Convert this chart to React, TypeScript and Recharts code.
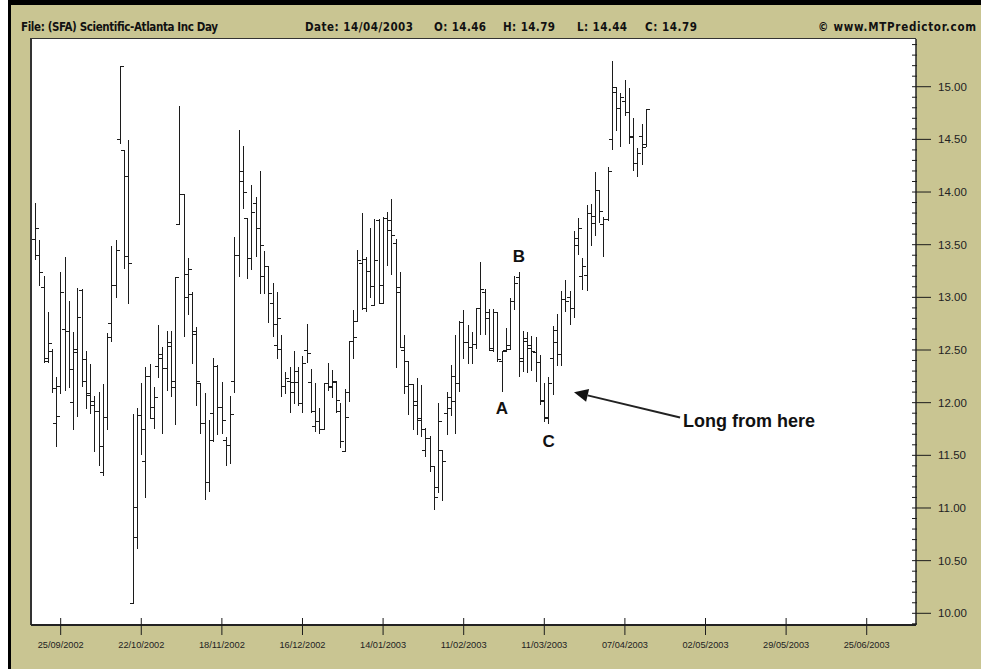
import React from 'react';
import { ComposedChart, Bar, XAxis, YAxis, ReferenceDot, ReferenceLine } from 'recharts';

// daily bars, 17/09/2002 .. 14/04/2003
const openPx = [
  13.55, 13.40, 13.10, 12.42, 12.49, 11.81, 12.16, 12.70, 12.68, 12.01,
  12.51, 13.07, 12.21, 12.09, 12.02, 11.92, 11.34, 11.86, 12.76, 13.12,
  14.50, 14.40, 13.39, 10.10, 10.72, 11.88, 11.45, 12.25, 11.85, 12.35,
  12.46, 12.33, 12.54, 12.21, 13.70, 13.98, 13.00, 13.03, 12.65, 12.19,
  11.81, 11.25, 11.90, 12.35, 11.96, 11.65, 11.60, 12.21, 13.40, 14.10,
  13.75, 13.37, 13.90, 13.66, 13.20, 13.30, 12.95, 12.55, 12.51, 12.16,
  12.21, 12.20, 12.20, 12.00, 12.50, 12.20, 11.78, 11.83, 11.75, 12.19,
  12.15, 12.20, 11.92, 11.54, 12.10, 12.59, 12.78, 13.33, 12.90, 13.25,
  12.93, 13.73, 12.95, 13.75, 13.73, 13.52, 13.10, 12.50, 12.16, 12.18,
  12.02, 11.84, 11.55, 11.66, 11.40, 11.20, 11.55, 11.90, 12.05, 12.02,
  12.19, 12.77, 12.58, 12.53, 12.56, 12.90, 13.05, 12.80, 12.52, 12.86,
  12.40, 12.50, 12.55, 12.97, 13.19, 12.40, 12.59, 12.55, 12.48, 12.39,
  12.02, 11.85, 12.42, 12.69, 12.46, 12.98, 13.00, 12.90, 13.56, 13.20,
  13.21, 13.80, 13.77, 14.02, 13.70, 13.74, 14.50, 14.95, 14.80, 14.86,
  14.76, 14.52, 14.28, 14.53, 14.46,
];
const highPx = [
  13.90, 13.54, 13.20, 12.86, 12.51, 12.24, 13.24, 13.38, 12.97, 12.67,
  13.09, 13.08, 12.49, 12.37, 12.06, 12.10, 12.18, 12.66, 13.49, 13.54,
  15.20, 14.40, 14.49, 11.89, 11.95, 12.19, 12.34, 12.37, 12.15, 12.74,
  12.53, 12.68, 12.68, 13.19, 14.82, 13.98, 13.37, 13.05, 12.72, 12.19,
  12.09, 11.84, 12.42, 12.36, 12.20, 11.67, 12.06, 13.57, 14.59, 14.44,
  13.75, 14.07, 13.95, 14.20, 13.44, 13.30, 13.14, 13.05, 12.64, 12.29,
  12.34, 12.49, 12.34, 12.44, 12.75, 12.32, 12.19, 11.95, 12.19, 12.38,
  12.31, 12.21, 12.00, 12.13, 12.59, 12.88, 13.45, 13.80, 13.38, 13.66,
  13.74, 13.74, 13.76, 13.81, 13.93, 13.55, 13.24, 12.64, 12.40, 12.18,
  12.23, 12.17, 11.76, 11.68, 11.40, 12.00, 11.55, 12.10, 12.36, 12.64,
  12.78, 12.88, 12.74, 12.67, 12.90, 13.34, 13.08, 12.89, 12.89, 12.86,
  12.49, 12.71, 12.99, 13.20, 13.24, 12.68, 12.67, 12.63, 12.62, 12.45,
  12.19, 12.24, 12.73, 12.84, 13.06, 13.16, 13.06, 13.63, 13.75, 13.37,
  13.88, 13.89, 14.19, 14.02, 13.76, 14.24, 15.24, 15.00, 14.94, 15.06,
  14.99, 14.70, 14.42, 14.65, 14.79,
];
const lowPx = [
  13.36, 13.12, 12.39, 12.39, 12.10, 11.59, 12.09, 12.12, 12.15, 11.75,
  11.87, 12.16, 11.95, 11.90, 11.54, 11.41, 11.31, 11.75, 12.59, 13.00,
  14.47, 13.28, 12.95, 10.10, 10.62, 11.51, 11.10, 11.85, 11.76, 12.24,
  11.71, 12.12, 12.06, 11.80, 13.70, 12.63, 12.84, 12.38, 11.98, 11.71,
  11.09, 11.16, 11.64, 11.70, 11.71, 11.41, 11.43, 12.10, 13.20, 13.85,
  13.18, 13.27, 13.39, 13.04, 13.04, 12.77, 12.63, 12.42, 12.06, 12.09,
  11.91, 12.00, 11.98, 11.91, 12.39, 11.91, 11.73, 11.71, 11.75, 12.12,
  12.05, 11.91, 11.58, 11.54, 12.02, 12.42, 12.78, 12.89, 12.87, 13.00,
  12.93, 12.95, 12.95, 13.31, 13.22, 12.34, 12.53, 12.09, 11.89, 11.75,
  11.70, 11.68, 11.49, 11.35, 10.99, 11.15, 11.08, 11.70, 11.88, 11.71,
  12.11, 12.42, 12.38, 12.38, 12.52, 12.65, 12.65, 12.50, 12.49, 12.40,
  12.11, 12.49, 12.51, 12.89, 12.25, 12.30, 12.29, 12.31, 12.21, 11.99,
  11.83, 11.81, 12.08, 12.36, 12.36, 12.87, 12.75, 12.81, 13.41, 13.08,
  13.07, 13.50, 13.59, 13.72, 13.39, 13.73, 14.41, 14.59, 14.44, 14.73,
  14.47, 14.21, 14.15, 14.27, 14.44,
];
const closePx = [
  13.66, 13.24, 12.40, 12.57, 12.14, 11.87, 13.05, 12.68, 12.32, 12.48,
  12.81, 12.41, 12.07, 11.98, 11.92, 11.59, 11.86, 12.62, 13.12, 13.45,
  15.20, 14.15, 13.33, 11.01, 11.88, 11.75, 12.25, 11.96, 12.05, 12.42,
  12.33, 12.58, 12.15, 13.19, 13.98, 13.22, 13.27, 12.68, 12.21, 11.81,
  11.25, 11.65, 12.35, 11.96, 11.84, 11.60, 11.89, 13.40, 14.20, 14.00,
  13.37, 13.81, 13.66, 13.50, 13.30, 13.04, 12.75, 12.80, 12.16, 12.23,
  12.10, 12.30, 12.00, 12.38, 12.47, 11.92, 11.83, 11.75, 12.19, 12.16,
  12.21, 12.03, 11.64, 11.86, 12.59, 12.62, 13.35, 13.36, 13.25, 13.11,
  13.35, 13.12, 13.75, 13.64, 13.59, 13.05, 12.53, 12.40, 12.18, 11.98,
  11.85, 11.75, 11.66, 11.40, 11.10, 11.83, 11.45, 11.95, 12.25, 12.19,
  12.77, 12.58, 12.53, 12.56, 12.90, 13.08, 12.86, 12.50, 12.86, 12.41,
  12.49, 12.51, 12.97, 13.14, 12.42, 12.61, 12.52, 12.49, 12.39, 12.03,
  11.86, 12.19, 12.58, 12.46, 12.98, 12.97, 12.90, 13.50, 13.66, 13.30,
  13.80, 13.71, 14.02, 13.82, 13.74, 14.20, 15.00, 14.80, 14.90, 14.76,
  14.53, 14.28, 14.37, 14.43, 14.79,
];

// x axis: bar slots incl. empty future days, date ticks every 19 bars
const SLOTS = 208;
const tickBars = [6, 25, 44, 63, 82, 101, 120, 139, 158, 177, 196];
const tickDates = [
  '25/09/2002', '22/10/2002', '18/11/2002', '16/12/2002', '14/01/2003', '11/02/2003',
  '11/03/2003', '07/04/2003', '02/05/2003', '29/05/2003', '25/06/2003',
];
const priceLabels = [10, 10.5, 11, 11.5, 12, 12.5, 13, 13.5, 14, 14.5, 15];

const notes = [
  { text: 'B', bar: 114, price: 13.39 },
  { text: 'A', bar: 110, price: 11.94 },
  { text: 'C', bar: 121, price: 11.63 },
];

const TAN = '#c9c592';
const INK = '#1c1c1c';

const data = Array.from({ length: SLOTS }, (_, i) =>
  i < openPx.length
    ? { i, o: openPx[i], h: highPx[i], l: lowPx[i], c: closePx[i], range: [lowPx[i], highPx[i]] }
    : { i, range: null }
);

const minorTicks: number[] = [];
for (let k = 99; k <= 154; k++) minorTicks.push(k / 10);

function OhlcBar(props: any) {
  const { x, y, width, height, payload } = props;
  if (!payload || payload.h == null) return null;
  const top = Math.min(y, y + height);
  const bot = Math.max(y, y + height);
  const span = payload.h - payload.l;
  const py = (p: number) => (span > 0 ? top + ((payload.h - p) / span) * (bot - top) : top);
  const cx = Math.round(x + width / 2) + 0.5;
  const yo = Math.round(py(payload.o)) + 0.5;
  const yc = Math.round(py(payload.c)) + 0.5;
  return (
    <g stroke={INK} strokeWidth={1}>
      <line x1={cx} x2={cx} y1={Math.round(top)} y2={Math.round(bot) + 1} />
      <line x1={cx - 3.5} x2={cx} y1={yo} y2={yo} />
      <line x1={cx} x2={cx + 3.5} y1={yc} y2={yc} />
    </g>
  );
}

function DateTick(props: any) {
  const { x, y, payload } = props;
  const k = tickBars.indexOf(payload.value);
  if (k < 0) return null;
  return (
    <g>
      <line x1={x} x2={x} y1={y - 7} y2={y + 10} stroke={INK} strokeWidth={1} />
      <text x={x} y={y + 23} textAnchor="middle" fontSize={9.5} fill="#222"
        fontFamily="'Liberation Sans', Arial, sans-serif" textLength={46} lengthAdjust="spacingAndGlyphs">
        {tickDates[k]}
      </text>
    </g>
  );
}

function PriceTick(props: any) {
  const { x, y, payload } = props;
  const v = payload.value;
  const major = priceLabels.some((p) => Math.abs(p - v) < 1e-6);
  if (!major) {
    return <line x1={x - 4} x2={x + 1} y1={y} y2={y} stroke={INK} strokeWidth={1} />;
  }
  return (
    <g>
      <line x1={x - 4} x2={x + 15} y1={y} y2={y} stroke={INK} strokeWidth={1} />
      <text x={x + 22} y={y + 4} fontSize={11.5} fill="#222" fontFamily="'Liberation Sans', Arial, sans-serif">
        {v.toFixed(2)}
      </text>
    </g>
  );
}

function NoteLabel(text: string, size: number, anchor: 'middle' | 'start', dx = 0) {
  return (p: any) => (
    <text x={p.cx + dx} y={p.cy} textAnchor={anchor} dominantBaseline="central" fontSize={size}
      fontWeight="bold" fill="#111" fontFamily="'Liberation Sans', Arial, sans-serif">
      {text}
    </text>
  );
}

function Arrow(p: any) {
  const { x1, y1, x2, y2 } = p;
  const dx = x2 - x1;
  const dy = y2 - y1;
  const len = Math.sqrt(dx * dx + dy * dy) || 1;
  const ux = dx / len;
  const uy = dy / len;
  const bx = x2 - ux * 14;
  const by = y2 - uy * 14;
  return (
    <g>
      <line x1={x1} y1={y1} x2={bx} y2={by} stroke="#222" strokeWidth={2} />
      <polygon
        points={`${x2},${y2} ${bx - uy * 6.5},${by + ux * 6.5} ${bx + uy * 6.5},${by - ux * 6.5}`}
        fill="#111"
      />
    </g>
  );
}

const header = [
  { text: 'File: (SFA) Scientific-Atlanta Inc Day', x: 21, w: 197 },
  { text: 'Date: 14/04/2003', x: 305, w: 108 },
  { text: 'O: 14.46', x: 434, w: 52 },
  { text: 'H: 14.79', x: 503, w: 52 },
  { text: 'L: 14.44', x: 577, w: 50 },
  { text: 'C: 14.79', x: 645, w: 52 },
  { text: '\u00a9 www.MTPredictor.com', x: 818, w: 158 },
];

export default function App() {
  return (
    <div style={{ position: 'absolute', left: 0, top: 0, width: 981, height: 669, background: '#fff', overflow: 'hidden' }}>
      <div style={{ position: 'absolute', left: 8, top: 0, right: 0, bottom: 0, background: TAN, borderLeft: '3px solid #000', borderTop: '5px solid #000' }} />
      <div style={{ position: 'absolute', left: 30, top: 38, width: 886, height: 587, background: '#fff', borderLeft: '2px solid #333', borderTop: '1px solid #333', boxSizing: 'border-box' }} />
      <svg width={981} height={40} style={{ position: 'absolute', left: 0, top: 0 }}>
        {header.map((h) => (
          <text key={h.text} x={h.x} y={31} fontSize={11.5} fontWeight="bold" fill="#111"
            fontFamily="'DejaVu Sans Condensed', 'DejaVu Sans', sans-serif" textLength={h.w} lengthAdjust="spacing">
            {h.text}
          </text>
        ))}
      </svg>
      <div style={{ position: 'absolute', left: 0, top: 0 }}>
        <ComposedChart width={981} height={669} data={data} margin={{ top: 39, right: 0, bottom: 0, left: 31 }}>
          <XAxis dataKey="i" type="category" ticks={tickBars} interval={0} tickSize={0} tickMargin={0}
            height={44} padding={{ left: 2.1, right: 0.5 }} tickLine={false}
            axisLine={{ stroke: '#222', strokeWidth: 2 }} tick={<DateTick />} />
          <YAxis orientation="right" type="number" domain={[9.889, 15.453]} allowDataOverflow ticks={minorTicks}
            interval={0} tickSize={0} tickMargin={0} width={65} tickLine={false}
            axisLine={{ stroke: '#222', strokeWidth: 1.5 }} tick={<PriceTick />} />
          <Bar dataKey="range" shape={<OhlcBar />} barCategoryGap={0} isAnimationActive={false} />
          {notes.map((n) => (
            <ReferenceDot key={n.text} x={n.bar} y={n.price} r={0} shape={NoteLabel(n.text, 17, 'middle')} />
          ))}
          <ReferenceLine segment={[{ x: 152, y: 11.86 }, { x: 127, y: 12.1 }]} shape={Arrow} />
          <ReferenceDot x={152} y={11.83} r={0} shape={NoteLabel('Long from here', 18, 'start', 3)} />
        </ComposedChart>
      </div>
    </div>
  );
}
